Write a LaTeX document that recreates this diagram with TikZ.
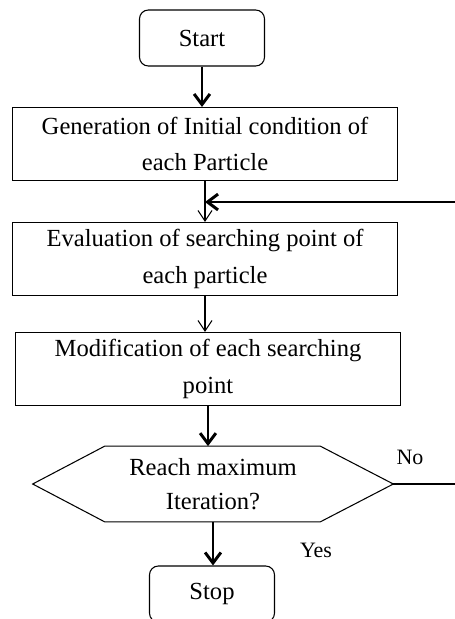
\documentclass[tikz,border=0pt]{standalone}
\usepackage{fontspec}
\setmainfont{Liberation Serif}
\usetikzlibrary{shapes,arrows.meta,calc}

\tikzset{
  box/.style={draw, line width=0.6pt, align=center, inner sep=2pt, font=\fontsize{14}{21}\selectfont},
  term/.style={box, rounded corners=5pt, minimum width=2.5cm, minimum height=1.12cm},
  proc/.style={box, minimum width=7.7cm, minimum height=1.46cm},
  decision/.style={align=center, inner sep=0pt, minimum width=7.2cm, minimum height=1.5cm, font=\fontsize{14}{19}\selectfont},
  lbl/.style={font=\fontsize{12.5}{14}\selectfont},
  thickarrow/.style={line width=1.7pt, -{Straight Barb[length=6pt,width=9pt]}},
  thinarrow/.style={line width=0.6pt, -{Straight Barb[length=6pt,width=8pt]}},
}

\begin{document}
\begin{tikzpicture}[x=0.02cm, y=-0.02cm]
\useasboundingbox (0,0) rectangle (455,619);
% boxes
\node[term] (start) at (202,38) {Start};
\node[proc] (gen) at (205,144) {Generation of Initial condition of\\each Particle};
\node[proc] (eval) at (205,259) {Evaluation of searching point of\\each particle};
\node[proc] (mod) at (208,369) {Modification of each searching\\point};
\node[decision] (dec) at (213,484) {Reach maximum\\Iteration?};
\draw[line width=0.6pt] (dec.west) -- ($(dec.north west)+(72,0)$) -- ($(dec.north east)+(-73,0)$)
  -- (dec.east) -- ($(dec.south east)+(-73,0)$) -- ($(dec.south west)+(72,0)$) -- cycle;
\node[term] (stop) at (212,594) {Stop};
% labels
\node[lbl] (no) at (410,457) {No};
\node[lbl] (yes) at (316,550) {Yes};
% loose ends of the loop
\coordinate (back) at (455,202);
\coordinate (noend) at (455,484);
% connectors
\draw[thickarrow] (start.south) -- (start.south |- gen.north);
\draw[thinarrow] (gen.south) -- (gen.south |- eval.north);
\draw[thickarrow] (back) -- (back -| gen.south);
\draw[thinarrow] (eval.south) -- (eval.south |- mod.north);
\draw[thickarrow] (mod.south) -- (mod.south |- dec.north);
\draw[line width=0.6pt] (dec.east) -- (noend);
\draw[thickarrow] (dec.south) -- (dec.south |- stop.north);
\end{tikzpicture}
\end{document}
